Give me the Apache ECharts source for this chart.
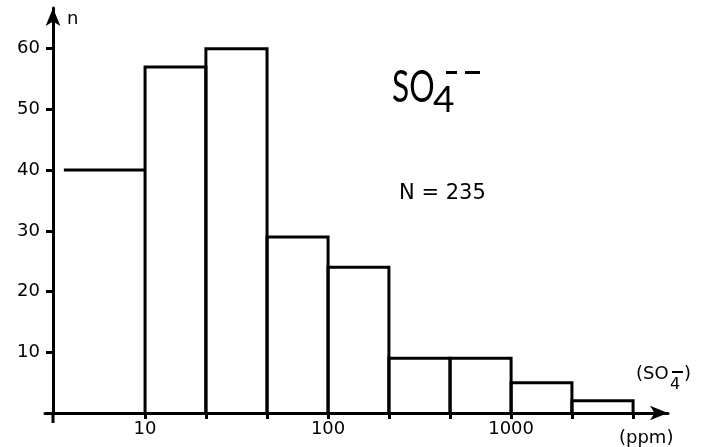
<!DOCTYPE html>
<html>
<head>
<meta charset="utf-8">
<script src="https://cdn.jsdelivr.net/npm/echarts@6/dist/echarts.min.js"></script>
<style>html,body{margin:0;padding:0;background:#fff}#c{width:705px;height:447px}</style>
</head>
<body>
<div id="c"></div>
<script>
// Bin edges (ppm, log scale, thirds of a decade) and counts
const binEdges = [10, 21.5, 46.4, 100, 215, 464, 1000, 2150, 4640];
const counts = [57, 60, 29, 24, 9, 9, 5, 2];
// First open bin (< 10 ppm)
const firstBinStart = [3.6];
const firstBinCount = [40];
const yTickValues = [10, 20, 30, 40, 50, 60];
const xLabelValues = [10, 100, 1000];
const xTickValues = [10, 21.5, 46.4, 100, 215, 464, 1000, 2150, 4640];

const barData = counts.map((c, i) => [binEdges[i], binEdges[i + 1], c]);
const openData = [[firstBinStart[0], binEdges[0], firstBinCount[0]]];

const FONT = 'DejaVu Sans';
const chart = echarts.init(document.getElementById('c'));
chart.setOption({
  animation: false,
  backgroundColor: '#fff',
  grid: { left: 45, right: 37, top: 8, bottom: 34 },
  xAxis: {
    type: 'log', logBase: 10, min: 2.84, max: 7200,
    axisLine: { show: true, lineStyle: { color: '#000', width: 3 }, symbol: ['none', 'arrow'], symbolSize: [11, 18] },
    axisTick: { show: true, inside: false, length: 6, lineStyle: { color: '#000', width: 3 }, customValues: xTickValues },
    axisLabel: { color: '#000', fontFamily: FONT, fontSize: 18, margin: 7, customValues: xLabelValues,
      formatter: v => String(Math.round(v)) },
    splitLine: { show: false }
  },
  yAxis: {
    type: 'value', min: 0, max: 66.7, offset: -8,
    axisLine: { show: true, onZero: false, lineStyle: { color: '#000', width: 3 }, symbol: ['none', 'arrow'], symbolSize: [11, 18] },
    axisTick: { show: true, length: 7, lineStyle: { color: '#000', width: 3 }, customValues: yTickValues },
    axisLabel: { color: '#000', fontFamily: FONT, fontSize: 18, margin: 13, customValues: yTickValues },
    splitLine: { show: false }
  },
  series: [
    {
      type: 'custom',
      data: barData,
      encode: { x: [0, 1], y: 2 },
      renderItem: (params, api) => {
        const a = api.value(0), b = api.value(1), v = api.value(2);
        const pts = [api.coord([a, 0]), api.coord([a, v]), api.coord([b, v]), api.coord([b, 0])];
        return { type: 'polyline', shape: { points: pts }, style: { stroke: '#000', lineWidth: 3, fill: null } };
      }
    },
    {
      type: 'custom',
      data: openData,
      encode: { x: [0, 1], y: 2 },
      renderItem: (params, api) => {
        const p1 = api.coord([api.value(0), api.value(2)]);
        const p2 = api.coord([api.value(1), api.value(2)]);
        return { type: 'line', shape: { x1: p1[0], y1: p1[1], x2: p2[0], y2: p2[1] }, style: { stroke: '#000', lineWidth: 3 } };
      }
    }
  ],
  graphic: [
    { type: 'line', shape: { x1: 53, y1: 412, x2: 53, y2: 423 }, style: { stroke: '#000', lineWidth: 3 } },
    { type: 'text', left: 67, top: 10, style: { text: 'n', fontFamily: FONT, fontSize: 18, fill: '#000' } },
    { type: 'text', x: 392, y: 66, scaleX: 0.72, style: { x: 0, y: 0, text: 'SO', fontFamily: 'Lato', fontSize: 44, fill: '#000' } },
    { type: 'text', x: 433, y: 82, style: { x: 0, y: 0, text: '4', fontFamily: 'Lato', fontSize: 37, fill: '#000' } },
    { type: 'rect', shape: { x: 446, y: 71, width: 11, height: 3 }, style: { fill: '#000' } },
    { type: 'rect', shape: { x: 465, y: 71, width: 15, height: 3 }, style: { fill: '#000' } },
    { type: 'text', left: 399, top: 183, style: { text: 'N = 235', fontFamily: FONT, fontSize: 21, fill: '#000' } },
    { type: 'text', left: 636, top: 365, style: { text: '(SO', fontFamily: FONT, fontSize: 18, fill: '#000' } },
    { type: 'text', left: 670, top: 377, style: { text: '4', fontFamily: FONT, fontSize: 16, fill: '#000' } },
    { type: 'rect', shape: { x: 672, y: 371, width: 11, height: 2 }, style: { fill: '#000' } },
    { type: 'text', left: 684, top: 365, style: { text: ')', fontFamily: FONT, fontSize: 18, fill: '#000' } },
    { type: 'text', left: 619, top: 429, style: { text: '(ppm)', fontFamily: FONT, fontSize: 18, fill: '#000' } }
  ]
});
</script>
</body>
</html>
